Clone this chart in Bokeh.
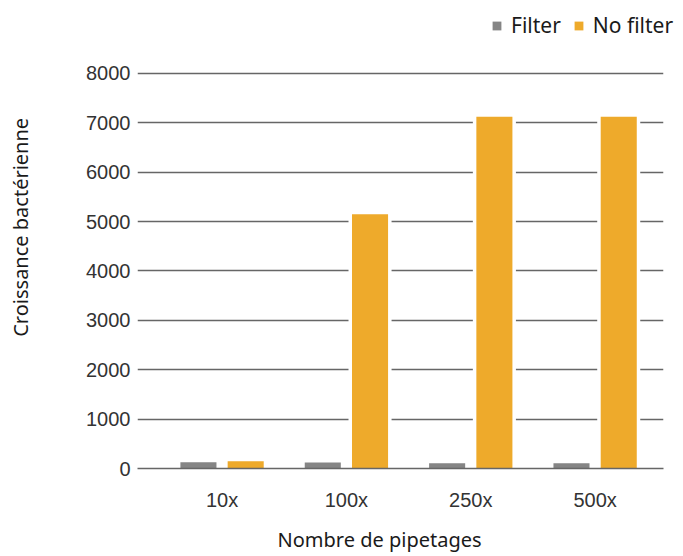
import math
from bokeh.plotting import figure
from bokeh.layouts import column, row
from bokeh.models import Range1d, FixedTicker, ColumnDataSource, Legend, LegendItem, Label
from bokeh.transform import dodge
from bokeh.embed import file_html
from bokeh.resources import INLINE

categories = ["10x", "100x", "250x", "500x"]
filter_vals = [125, 120, 105, 105]
nofilter_vals = [145, 5150, 7125, 7125]
y_ticks = [0, 1000, 2000, 3000, 4000, 5000, 6000, 7000, 8000]
series_names = ["Filter", "No filter"]
series_colors = ["#858585", "#EEAA2B"]
x_title = "Nombre de pipetages"
y_title = "Croissance bactérienne"

idx = list(range(len(categories)))
src = ColumnDataSource(dict(x=idx, cat=categories, filt=filter_vals, nofilt=nofilter_vals))

BW = 0.29
OFF = 0.19
TEXT_COLOR = "#1a1a1a"
TOTAL_W = 683


def strip(w, h, xr=None, yr=None):
    f = figure(width=w, height=h, output_backend="svg", toolbar_location=None,
               x_axis_location=None, y_axis_location=None, min_border=0,
               x_range=xr if xr is not None else Range1d(0, w),
               y_range=yr if yr is not None else Range1d(0, h))
    f.outline_line_color = None
    f.xgrid.grid_line_color = None
    f.ygrid.grid_line_color = None
    return f


# ---- main chart ----
p = figure(width=TOTAL_W - 40, height=456, output_backend="svg", toolbar_location=None,
           x_range=Range1d(-0.68, 3.55), y_range=Range1d(0, 8040),
           min_border_left=97, min_border_right=20, min_border_top=14, min_border_bottom=45)
p.outline_line_color = None

# white halos that interrupt the grid lines around the bars
for col, off in (("filt", -OFF), ("nofilt", OFF)):
    p.vbar(x=dodge("x", off), top=col, width=BW, bottom=0, source=src,
           fill_color="white", line_color="white", line_width=7)
p.vbar(x=dodge("x", -OFF), top="filt", width=BW, bottom=0, source=src,
       fill_color=series_colors[0], line_color=None)
p.vbar(x=dodge("x", OFF), top="nofilt", width=BW, bottom=0, source=src,
       fill_color=series_colors[1], line_color=None)

p.xgrid.grid_line_color = None
p.ygrid.grid_line_color = "#666666"
p.ygrid.grid_line_width = 1.5
p.ygrid.ticker = FixedTicker(ticks=y_ticks)

p.yaxis.ticker = FixedTicker(ticks=y_ticks)
p.yaxis.axis_line_color = None
p.yaxis.major_tick_line_color = None
p.yaxis.major_tick_out = 0
p.yaxis.minor_tick_line_color = None
p.yaxis.minor_tick_out = 0
p.yaxis.major_label_standoff = 7
p.yaxis.major_label_text_font = "Liberation Sans"
p.yaxis.major_label_text_font_size = "20px"
p.yaxis.major_label_text_color = "#333333"

p.xaxis.ticker = FixedTicker(ticks=idx)
p.xaxis.major_label_overrides = {i: c for i, c in zip(idx, categories)}
p.xaxis.axis_line_color = "#666666"
p.xaxis.axis_line_width = 1.5
p.xaxis.major_tick_line_color = None
p.xaxis.major_tick_out = 0
p.xaxis.minor_tick_line_color = None
p.xaxis.minor_tick_out = 0
p.xaxis.major_label_standoff = 20
p.xaxis.major_label_text_font = "Liberation Sans"
p.xaxis.major_label_text_font_size = "20px"
p.xaxis.major_label_text_color = "#333333"

# ---- legend strip (top) ----
top = strip(TOTAL_W, 57, xr=Range1d(-0.68, 3.55), yr=Range1d(0, 8040))
l1 = top.vbar(x=dodge("x", -OFF), top="filt", width=BW, bottom=0, source=src,
              fill_color=series_colors[0], line_color=None)
l2 = top.vbar(x=dodge("x", OFF), top="nofilt", width=BW, bottom=0, source=src,
              fill_color=series_colors[1], line_color=None)
l1.visible = False
l2.visible = False
legend = Legend(items=[LegendItem(label=series_names[0], renderers=[l1]),
                       LegendItem(label=series_names[1], renderers=[l2])],
                orientation="horizontal", location=(491, 18),
                glyph_width=11, glyph_height=11, label_standoff=9, spacing=12,
                padding=2, margin=0, border_line_color=None,
                background_fill_alpha=0, inactive_fill_alpha=0,
                label_text_font="Noto Sans", label_text_font_size="21px",
                label_text_color=TEXT_COLOR)
top.add_layout(legend, "center")

# ---- y title strip (left) ----
ys = strip(40, 456)
ys.add_layout(Label(x=20, y=277, text=y_title, angle=math.pi / 2,
                    text_align="center", text_baseline="middle",
                    text_font="Noto Sans", text_font_size="20px", text_color=TEXT_COLOR))

# ---- x title strip (bottom) ----
xs = strip(TOTAL_W, 43)
xs.add_layout(Label(x=277, y=17, text=x_title,
                    text_align="left", text_baseline="alphabetic",
                    text_font="Noto Sans", text_font_size="20px", text_color=TEXT_COLOR))

layout = column(top, row(ys, p, spacing=0), xs, spacing=0)
open("out.html", "w").write(file_html(layout, INLINE))
